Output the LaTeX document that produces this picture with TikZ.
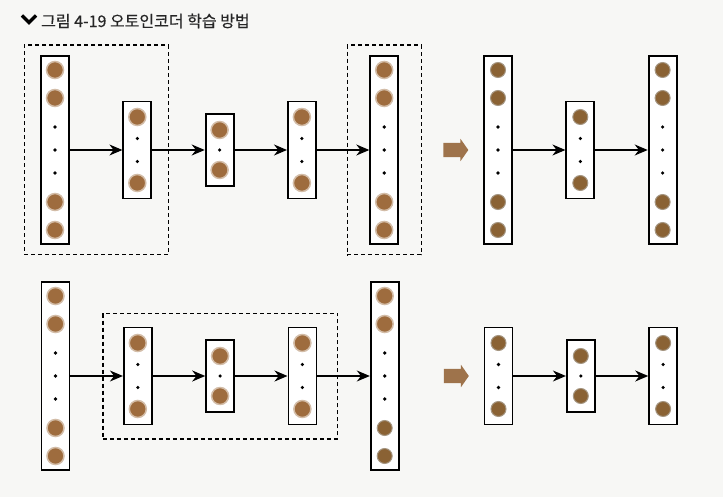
\documentclass[tikz,border=0pt]{standalone}
\usepackage{fontspec}
\newfontfamily\krfont[BoldFont={Noto Sans CJK KR}, BoldFeatures={FakeBold=0.5}]{Noto Sans CJK KR}
\usepackage{tikz}
\usetikzlibrary{positioning,calc,fit,arrows.meta,shapes.arrows}
\definecolor{PaperGray}{RGB}{247,247,245}
\definecolor{BlurBrown}{RGB}{158,108,62}
\definecolor{CellBrown}{RGB}{138,98,52}
\definecolor{RingGray}{RGB}{165,150,130}
\definecolor{ArrowBrown}{RGB}{158,115,75}
\tikzset{
    layer/.style={draw, line width=1.8pt, fill=white, minimum width=28pt, inner sep=0pt},
    biglayer/.style={layer, minimum height=188pt},
    midlayer/.style={layer, minimum height=97pt},
    smalllayer/.style={layer, minimum height=72pt},
    blurcell/.style={circle, fill=BlurBrown, draw=BlurBrown!45, line width=1.5pt, minimum size=17pt, inner sep=0pt},
    ringcell/.style={circle, fill=CellBrown, draw=RingGray, line width=1pt, minimum size=15pt, inner sep=0pt},
    dotnode/.style={circle, fill=black, minimum size=3.6pt, inner sep=0pt},
    dashbox/.style={draw, line width=1.2pt, dash pattern=on 4pt off 3pt},
    link/.style={-{Stealth[length=13pt, width=11pt]}, line width=1.2pt},
    fatarrow/.style={single arrow, fill=ArrowBrown, minimum height=25pt, inner xsep=0pt, inner ysep=7pt, single arrow head extend=4pt, single arrow tip angle=110}
}
\begin{document}
\begin{tikzpicture}[x=1pt, y=-1pt, node distance=52.5pt]
\fill[PaperGray] (0,0) rectangle (723,497);
\useasboundingbox (0,0) rectangle (723,497);

% title
\draw[line width=3.5pt] (22,15.5) -- (29,22.5) -- (36,15.5);
\node[anchor=west, inner sep=0pt, text=black!85, font=\krfont\bfseries\fontsize{16}{18}\selectfont] (title) at (41,21) {그림 4-19 오토인코더 학습 방법};

% top row
\node[biglayer] (a1) at (55,150) {};
\node[midlayer] (a2) [right=of a1] {};
\node[smalllayer] (a3) [right=of a2] {};
\node[midlayer] (a4) [right=of a3] {};
\node[biglayer] (a5) [right=of a4] {};
\node[fatarrow] (ta) [right=44pt of a5] {};
\node[biglayer] (b1) [right=84pt of a5] {};
\node[midlayer] (b2) [right=of b1] {};
\node[biglayer] (b3) [right=of b2] {};

% bottom row
\node[biglayer] (c1) at (55.5,376) {};
\node[midlayer] (c2) [right=of c1] {};
\node[smalllayer] (c3) [right=of c2] {};
\node[midlayer] (c4) [right=of c3] {};
\node[biglayer] (c5) [right=of c4] {};
\node[fatarrow] (tc) [right=44pt of c5] {};
\node[midlayer] (d1) [right=84pt of c5] {};
\node[smalllayer] (d2) [right=of d1] {};
\node[midlayer] (d3) [right=of d2] {};

% units
\foreach \n/\s in {a1/blurcell, a5/blurcell, c1/blurcell, b1/ringcell, b3/ringcell} {
    \foreach \dy [count=\i] in {-80,-52,52,80}
        \node[\s] (\n u\i) at ($(\n)+(0,\dy)$) {};
    \foreach \dy [count=\i] in {-23,0,23}
        \node[dotnode] (\n d\i) at ($(\n)+(0,\dy)$) {};
}
\foreach \dy [count=\i] in {-80,-52}
    \node[blurcell] (c5u\i) at ($(c5)+(0,\dy)$) {};
\foreach \dy [count=\i] in {52,80}
    \node[ringcell] (c5v\i) at ($(c5)+(0,\dy)$) {};
\foreach \dy [count=\i] in {-23,0,23}
    \node[dotnode] (c5d\i) at ($(c5)+(0,\dy)$) {};
\foreach \n/\s in {a2/blurcell, a4/blurcell, c2/blurcell, c4/blurcell, b2/ringcell, d1/ringcell, d3/ringcell} {
    \foreach \dy [count=\i] in {-33,33}
        \node[\s] (\n u\i) at ($(\n)+(0,\dy)$) {};
    \foreach \dy [count=\i] in {-11.5,11.5}
        \node[dotnode] (\n d\i) at ($(\n)+(0,\dy)$) {};
}
\foreach \n/\s in {a3/blurcell, c3/blurcell, d2/ringcell} {
    \foreach \dy [count=\i] in {-20,20}
        \node[\s] (\n u\i) at ($(\n)+(0,\dy)$) {};
    \node[dotnode] (\n d1) at (\n) {};
}

% connections
\foreach \p/\q in {a1/a2, a2/a3, a3/a4, a4/a5, b1/b2, b2/b3, c1/c2, c2/c3, c3/c4, c4/c5, d1/d2, d2/d3}
    \draw[link] (\p) -- (\q);

% dashed groups
\node[dashbox, fit=(a1)(a2), inner xsep=16pt, inner ysep=10pt] (enc) {};
\node[dashbox, fit=(a5), inner xsep=22pt, inner ysep=10pt] (dec) {};
\node[dashbox, fit=(c2)(c3)(c4), inner xsep=20pt, inner ysep=13.5pt] (core) {};
\end{tikzpicture}
\end{document}
